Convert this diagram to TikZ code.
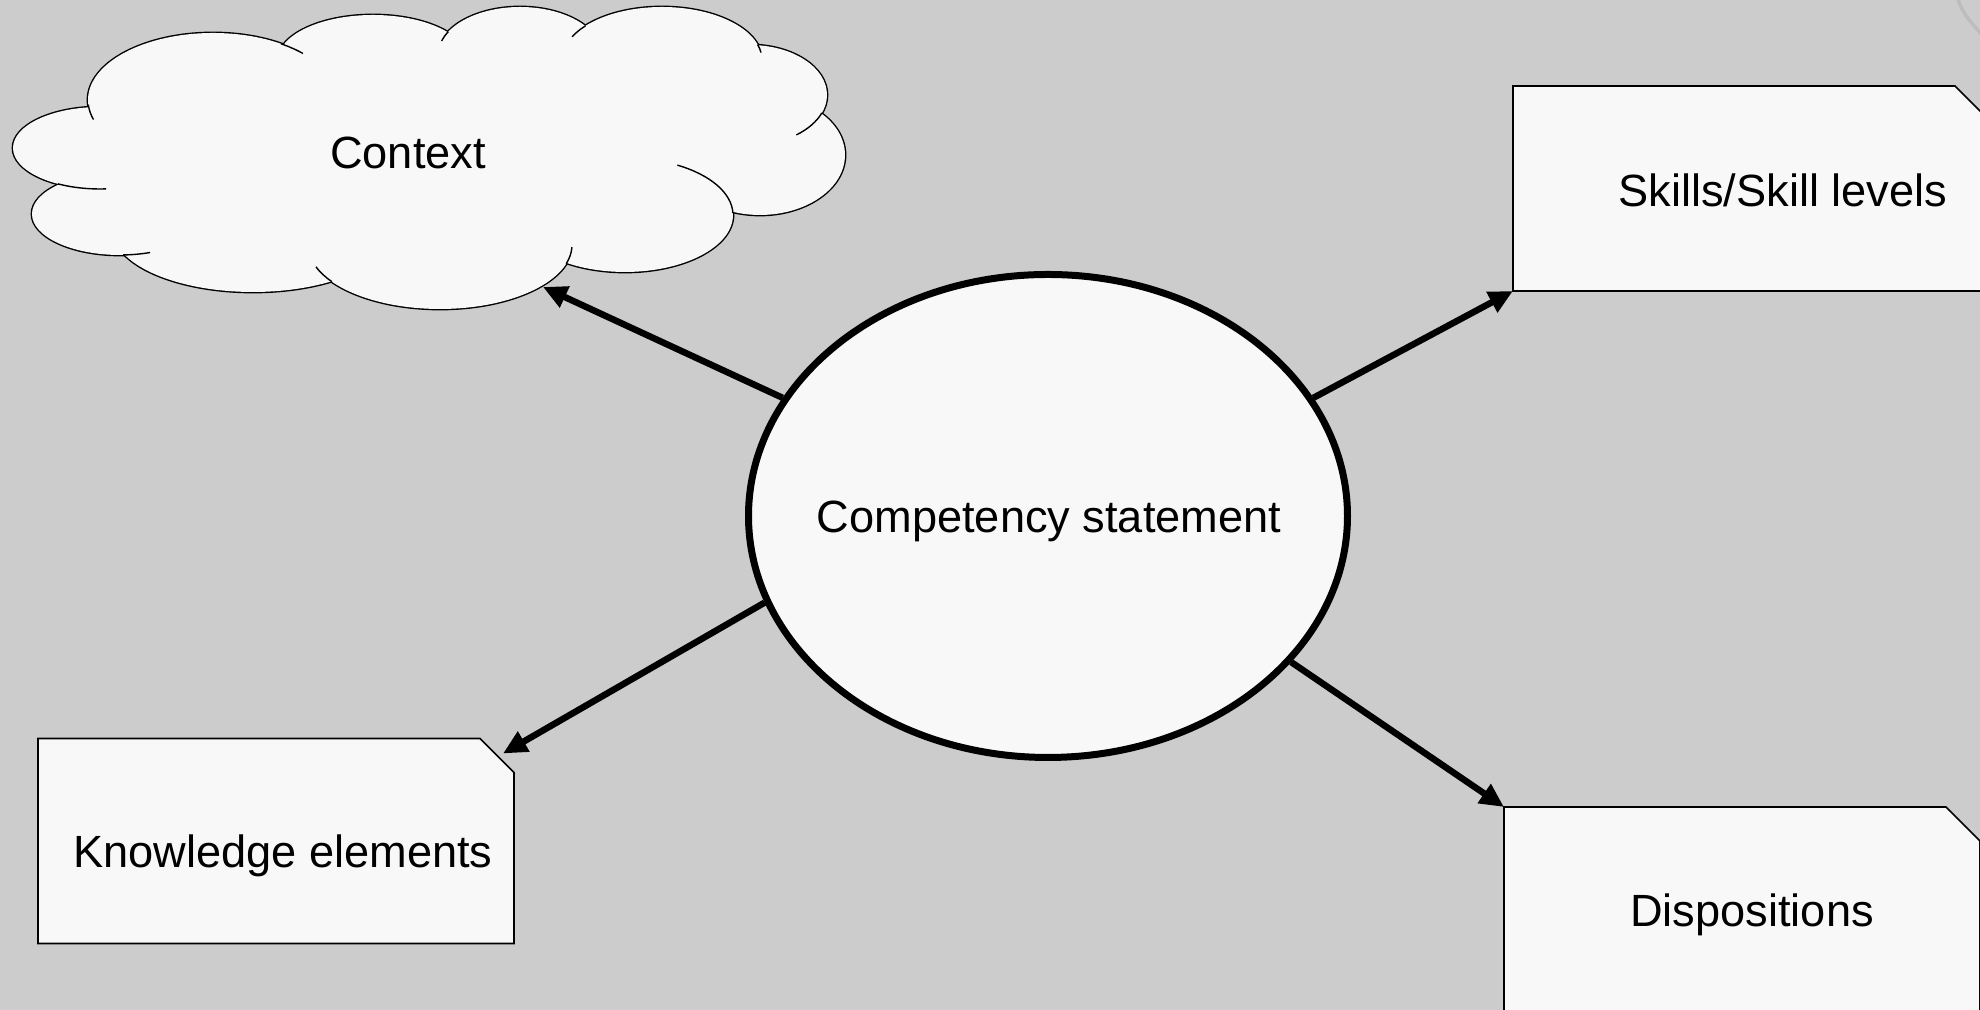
\documentclass[tikz,border=0pt]{standalone}
\usepackage{fontspec}
\setmainfont{Liberation Sans}
\usetikzlibrary{arrows.meta}
\usetikzlibrary{shapes.geometric}
\definecolor{paper}{HTML}{CCCCCC}
\definecolor{shapefill}{HTML}{F8F8F8}
\definecolor{ghost}{HTML}{BDBDBD}
\tikzset{lbl/.style={font=\fontsize{12.85}{15}\selectfont, inner sep=0pt, anchor=base},
 statement/.style={ellipse, draw, line width=0.7mm, fill=shapefill,
  minimum width=59.9mm, minimum height=48.3mm, inner sep=0pt},
 notebox/.style={inner sep=0pt, outer sep=0pt, minimum width=47.6mm, minimum height=20.5mm},
 boxline/.style={draw, line width=0.17mm, fill=shapefill},
 puffline/.style={draw, line width=0.28mm},
 pufftail/.style={draw, line width=0.14mm},
 link/.style={-{Triangle[length=2.4mm, width=2.2mm]}, line width=0.65mm},
 }

\begin{document}
\begin{tikzpicture}[x=0.1mm, y=0.1mm]
        \useasboundingbox (0,0) rectangle (1980,1010);
        \fill[paper] (0,0) rectangle (1980,1010);
        \draw[ghost, line width=0.35mm] (1958,1010) .. controls (1964,996) .. (1982,975);

        % cloud: outline of the puffs, then fill to hide the inner half
        \foreach \cx/\cy/\rx/\ry in {213/910/125/67, 100/862/87/41, 120/796/88/41, 253/780/140/62,
            440/765/132/64, 625/795/108/57, 760/855/85/60, 750/915/77/50, 662/950/100/53,
            520/955/82/48, 373/950/95/45} {
            \draw[puffline] (\cx,\cy) ellipse [x radius=\rx, y radius=\ry];
        }
        \foreach \cx/\cy/\rx/\ry in {213/910/125/67, 100/862/87/41, 120/796/88/41, 253/780/140/62,
            440/765/132/64, 625/795/108/57, 760/855/85/60, 750/915/77/50, 662/950/100/53,
            520/955/82/48, 373/950/95/45, 430/850/280/90, 650/880/110/50} {
            \fill[shapefill] (\cx,\cy) ellipse [x radius=\rx, y radius=\ry];
        }
        \foreach \cx/\cy/\rx/\ry/\a/\b in {213/910/125/67/184/197, 213/910/125/67/44/57,
            100/862/87/41/241/274, 120/796/88/41/272/290, 440/765/132/64/200/215,
            440/765/132/64/343/358, 625/795/108/57/2/61, 750/915/77/50/307/339,
            662/950/100/53/8/17, 662/950/100/53/140/154, 520/955/82/48/151/163} {
            \draw[pufftail] (\cx,\cy) ++({\rx*cos(\a)},{\ry*sin(\a)})
                arc[start angle=\a, end angle=\b, x radius=\rx, y radius=\ry];
        }
        \node[lbl] (ctx) at (408,841) {Context};
        \coordinate (ctxtip) at (543,723);

        \node[statement] (comp) at (1048,494) {};
        \node[lbl] (comptxt) at (1049,477) {Competency statement};

        \node[notebox] (skill) at (1751,821.5) {};
        \node[notebox] (know) at (276,169) {};
        \node[notebox] (disp) at (1742,100.5) {};
        \foreach \b in {skill, know, disp} {
            \draw[boxline] (\b.south west) -- (\b.north west) -- ([xshift=-3.4mm]\b.north east)
                -- ([yshift=-3.4mm]\b.north east) -- (\b.south east) -- cycle;
        }
        \node[lbl] (skilltxt) at (1783,803) {Skills/Skill levels};
        \node[lbl] (knowtxt) at (283,142) {Knowledge elements};
        \node[lbl] (disptxt) at (1752,83) {Dispositions};

        \draw[link] (comp.156) -- (ctxtip);
        \draw[link] (comp.24) -- (skill.south west);
        \draw[link] (comp.197) -- ([shift={(-1.1mm,-1.5mm)}]know.north east);
        \draw[link] (comp.-31) -- (disp.north west);
    \end{tikzpicture}
\end{document}
